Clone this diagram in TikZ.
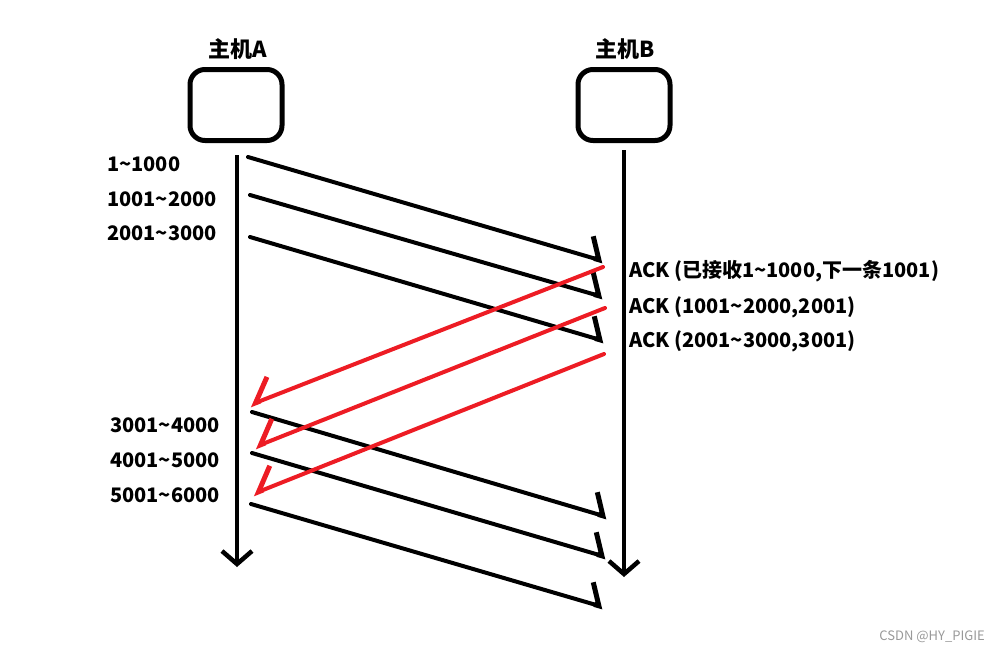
\documentclass[tikz,border=0pt]{standalone}
\usepackage{fontspec}
\setmainfont{Noto Sans CJK SC}
\usetikzlibrary{arrows.meta}
\definecolor{ackred}{RGB}{237,28,36}
\newcommand{\seqfont}{\fontsize{20}{20}\selectfont\bfseries}
\tikzset{
  host/.style={draw, line width=5pt, rounded corners=15pt, minimum width=92pt, minimum height=71pt, inner sep=0pt},
  hostname/.style={font=\fontsize{22}{22}\selectfont\bfseries, inner sep=0pt, anchor=base},
  life/.style={line width=4.5pt, -{Straight Barb[length=13pt, width=30pt, line width=4.5pt]}},
  seg/.style={line width=4pt, line cap=round, -{Straight Barb[left, length=12pt, width=42pt, line width=5pt]}},
  ack/.style={ackred, line width=4pt, line cap=round, -{Straight Barb[right, length=20pt, width=40pt, line width=5pt]}},
  seglabel/.style={font=\seqfont, inner sep=0pt, anchor=base west},
  wmark/.style={font=\fontsize{13}{13}\selectfont, text=black!40, inner sep=0pt, anchor=east}
}

\begin{document}
\begin{tikzpicture}[x=1pt, y=-1pt]
\useasboundingbox (0,0) rectangle (999,653);
\node[host] (hostA) at (236,105) {};
\node[host] (hostB) at (624,105) {};
\node[hostname] (nameA) at (237.5,57) {主机A};
\node[hostname] (nameB) at (625.5,57) {主机B};
\coordinate (topA) at (237,155);
\coordinate (botA) at (237,567);
\coordinate (topB) at (624,150);
\coordinate (botB) at (624,577);
\draw[life] (topA) -- (botA);
\draw[life] (topB) -- (botB);
\foreach \xa/\ya/\xb/\yb [count=\i] in {248/157/603/261, 250/195/603/297, 250/237/604/341, 252/412/607/517, 252/453/606/557, 251/504/603/607}{
  \coordinate (s\i) at (\xa,\ya);
  \coordinate (r\i) at (\xb,\yb);
  \draw[seg] (s\i) -- (r\i);
}
\foreach \xa/\ya/\xb/\yb [count=\i] in {603/267/250/405, 605/308/255/447, 604/354/253/494}{
  \coordinate (b\i) at (\xa,\ya);
  \coordinate (a\i) at (\xb,\yb);
  \draw[ack] (b\i) -- (a\i);
}
\foreach \x/\y/\txt [count=\i] in {107/171/1\textasciitilde1000, 107/206/1001\textasciitilde2000, 107/240/2001\textasciitilde3000, 110/432/3001\textasciitilde4000, 110/467/4001\textasciitilde5000, 110/502/5001\textasciitilde6000}
  \node[seglabel] (lab\i) at (\x,\y) {\txt};
\foreach \y/\txt [count=\i] in {277/{ACK (已接收1\textasciitilde1000,下一条1001)}, 313/{ACK (1001\textasciitilde2000,2001)}, 347/{ACK (2001\textasciitilde3000,3001)}}
  \node[seglabel] (ack\i) at (629,\y) {\txt};
\node[wmark] (csdn) at (985,637) {CSDN @HY\_PIGIE};
\end{tikzpicture}
\end{document}
